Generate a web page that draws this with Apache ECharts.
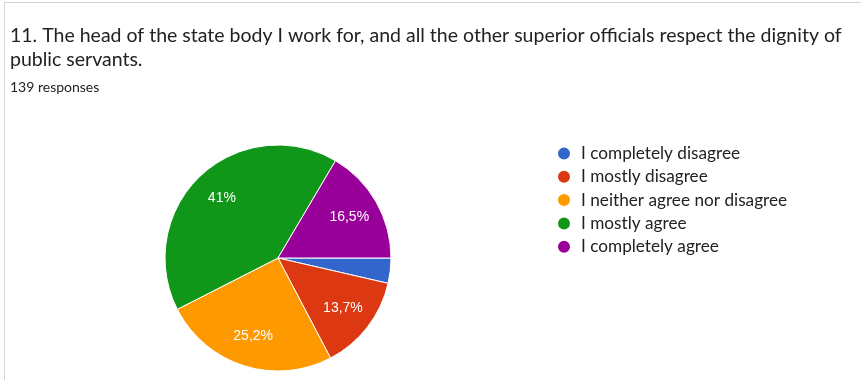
<!DOCTYPE html>
<html>
<head>
<meta charset="utf-8">
<script src="https://cdn.jsdelivr.net/npm/echarts@6/dist/echarts.min.js"></script>
<style>
  html, body { margin: 0; padding: 0; background: #fff; }
  #chart { position: absolute; left: 0; top: 0; width: 861px; height: 380px; }
  #frame { position: absolute; left: 4px; top: 2px; width: 860px; height: 380px;
           border-left: 1px solid #d4d4d4; border-top: 1px solid #d4d4d4; pointer-events: none; }
</style>
</head>
<body>
<div id="chart"></div>
<div id="frame"></div>
<script>
// Survey question 11 – answer shares (percent of 139 responses)
const categories = [
  'I completely disagree',
  'I mostly disagree',
  'I neither agree nor disagree',
  'I mostly agree',
  'I completely agree'
];
const shares = [3.6, 13.7, 25.2, 41, 16.5];
const sliceLabels = ['', '13,7%', '25,2%', '41%', '16,5%'];
const colors = ['#3366cc', '#dc3912', '#ff9900', '#109618', '#990099'];

const titleText = '11. The head of the state body I work for, and all the other superior officials respect the dignity of\npublic servants.';
const subtitleText = '139 responses';

const font = 'Lato, "Open Sans", sans-serif';
const center = [278, 258];
const pieRadius = 113;

const pieData = categories.map((name, i) => ({ name, value: shares[i] }));

const chart = echarts.init(document.getElementById('chart'), null, { renderer: 'canvas' });
chart.setOption({
  animation: false,
  color: colors,
  title: {
    text: titleText,
    subtext: subtitleText,
    left: 10,
    top: 24,
    padding: 0,
    itemGap: 7,
    textStyle: { fontFamily: font, fontSize: 19.5, fontWeight: 'normal', color: '#222', lineHeight: 24 },
    subtextStyle: { fontFamily: font, fontSize: 14, color: '#222', lineHeight: 16 }
  },
  legend: {
    orient: 'vertical',
    left: 556,
    top: 145,
    padding: 0,
    icon: 'circle',
    itemWidth: 14,
    itemHeight: 14,
    itemGap: 6.3,
    textStyle: { fontFamily: font, fontSize: 17.2, color: '#222', lineHeight: 17, padding: [0, 0, 0, 5] },
    data: categories
  },
  series: [{
    // slices
    type: 'pie',
    center,
    radius: pieRadius,
    startAngle: 0,
    clockwise: true,
    itemStyle: { borderColor: '#fff', borderWidth: 1 },
    label: { show: false },
    labelLine: { show: false },
    data: pieData
  }, {
    // percentage labels, placed further out than the default inside position
    type: 'pie',
    center,
    radius: [45, pieRadius],
    startAngle: 0,
    clockwise: true,
    silent: true,
    legendHoverLink: false,
    itemStyle: { color: 'rgba(0,0,0,0)' },
    label: {
      position: 'inside',
      color: '#fff',
      fontFamily: 'Arial, "Liberation Sans", sans-serif',
      fontSize: 14,
      formatter: p => sliceLabels[p.dataIndex]
    },
    labelLine: { show: false },
    data: pieData
  }]
});
</script>
</body>
</html>
